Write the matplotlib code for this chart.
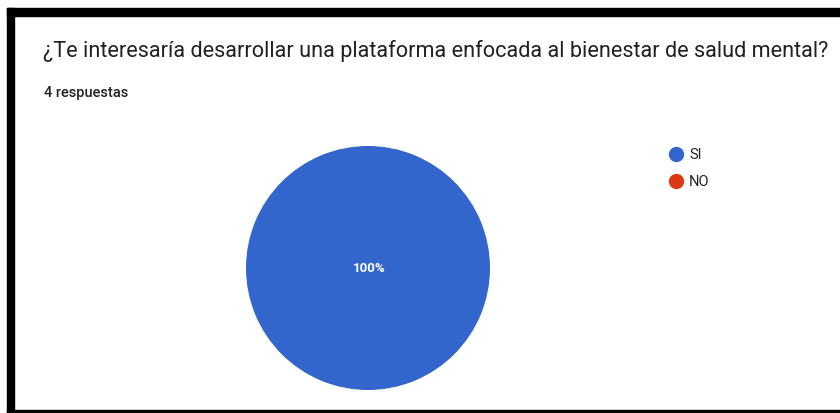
import matplotlib
matplotlib.use("Agg")
import matplotlib.pyplot as plt
from matplotlib.patches import Rectangle

# Data
title = "¿Te interesaría desarrollar una plataforma enfocada al bienestar de salud mental?"
subtitle = "4 respuestas"
labels = ["SI", "NO"]
counts = [4, 0]
colors = ["#3366cc", "#dc3912"]

W, H = 840, 414
fig = plt.figure(figsize=(W / 100, H / 100), dpi=100)
fig.patch.set_facecolor("white")

# black frame (left, top, bottom; right side is cropped)
fig.patches.append(Rectangle((7 / W, 0), 7 / W, 1 - 9 / H, transform=fig.transFigure,
                             color="black", zorder=0))
fig.patches.append(Rectangle((7 / W, 1 - 17 / H), 1, 8 / H, transform=fig.transFigure,
                             color="black", zorder=0))
fig.patches.append(Rectangle((7 / W, 0), 1, 3 / H, transform=fig.transFigure,
                             color="black", zorder=0))

fig.text(43 / W, 1 - 51 / H, title, fontsize=15.6, family="Roboto",
         color="#202124", va="center", ha="left")
fig.text(44 / W, 1 - 93 / H, subtitle, fontsize=10.5, family="Roboto",
         fontweight="medium", color="#202124", va="center", ha="left")

# pie
cx, cy, r = 368, 269, 122
ax = fig.add_axes([(cx - r) / W, (H - cy - r) / H, 2 * r / W, 2 * r / H])
ax.pie(counts, colors=colors, startangle=90, counterclock=False,
       wedgeprops=dict(linewidth=0), radius=1)
ax.set_xlim(-1, 1)
ax.set_ylim(-1, 1)
ax.set_aspect("auto")
total = sum(counts)
for c in counts:
    if c == total:
        ax.text(0.01, 0, f"{100 * c / total:.0f}%", color="white", fontsize=9.5,
                fontweight="bold", family="Roboto", ha="center", va="center")

# legend
for i, (lab, col) in enumerate(zip(labels, colors)):
    y = 1 - (155 + 27 * i) / H
    fig.lines.append(plt.Line2D([676 / W], [y], marker="o", markersize=10,
                                color=col, linestyle="none",
                                transform=fig.transFigure))
    fig.text(689 / W, y, lab, fontsize=10.5, family="Roboto", color="#222222",
             va="center", ha="left")

fig.savefig("out.png", dpi=100)
